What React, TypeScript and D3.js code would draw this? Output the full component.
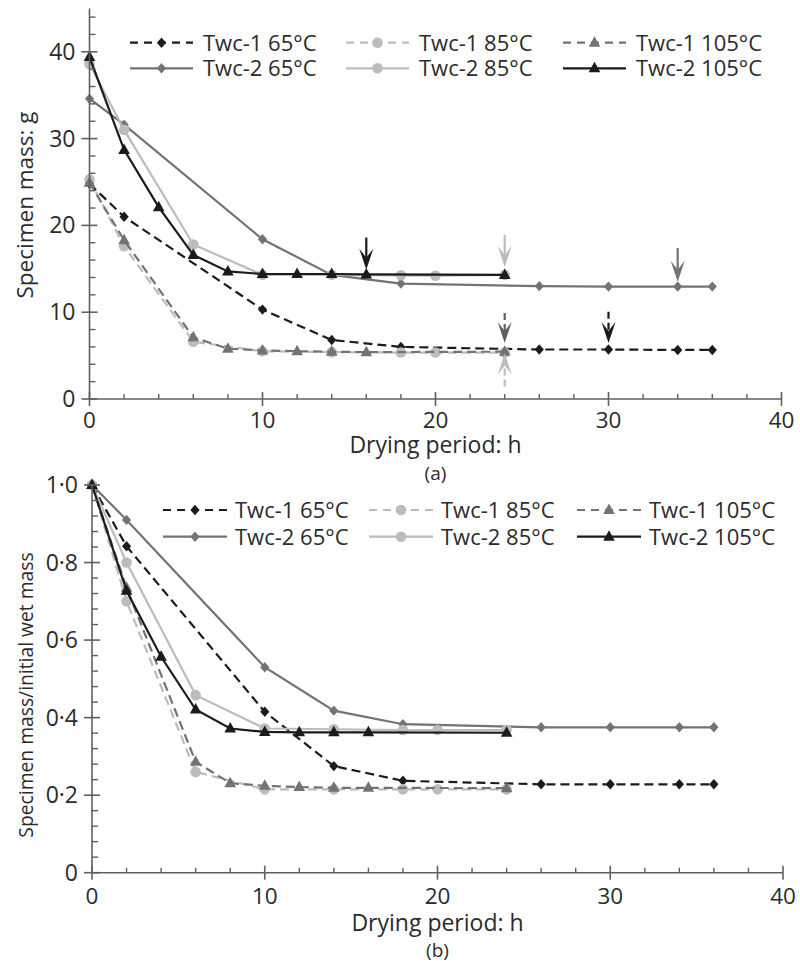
import React from 'react';
import * as d3 from 'd3';

// sampling hours for each series
const hoursT1_65 = [0, 2, 10, 14, 18, 26, 30, 34, 36];
const hoursT1_85 = [0, 2, 6, 10, 14, 18, 20, 24];
const hoursT1_105 = [0, 2, 6, 8, 10, 12, 14, 16, 24];
const hoursT2_65 = [0, 2, 10, 14, 18, 26, 30, 34, 36];
const hoursT2_85 = [0, 2, 6, 10, 14, 18, 20, 24];
const hoursT2_105 = [0, 2, 4, 6, 8, 10, 12, 14, 16, 24];

// (a) specimen mass, g
const massT1_65 = [24.8, 21.0, 10.3, 6.8, 6.0, 5.7, 5.7, 5.65, 5.65];
const massT1_85 = [25.3, 17.6, 6.6, 5.5, 5.4, 5.35, 5.35, 5.35];
const massT1_105 = [24.9, 18.3, 7.1, 5.8, 5.6, 5.5, 5.45, 5.4, 5.45];
const massT2_65 = [34.6, 31.6, 18.4, 14.3, 13.3, 13.0, 12.95, 12.95, 12.95];
const massT2_85 = [38.6, 31.0, 17.8, 14.3, 14.3, 14.25, 14.2, 14.3];
const massT2_105 = [39.4, 28.7, 22.1, 16.6, 14.7, 14.4, 14.4, 14.4, 14.35, 14.3];

// (b) specimen mass / initial wet mass
const ratioT1_65 = [1, 0.842, 0.415, 0.275, 0.237, 0.228, 0.228, 0.228, 0.228];
const ratioT1_85 = [1, 0.7, 0.26, 0.215, 0.215, 0.215, 0.215, 0.215];
const ratioT1_105 = [1, 0.735, 0.286, 0.231, 0.224, 0.221, 0.219, 0.219, 0.218];
const ratioT2_65 = [1, 0.91, 0.53, 0.418, 0.383, 0.375, 0.375, 0.375, 0.375];
const ratioT2_85 = [1, 0.8, 0.458, 0.372, 0.37, 0.368, 0.368, 0.368];
const ratioT2_105 = [1, 0.727, 0.557, 0.421, 0.372, 0.363, 0.362, 0.362, 0.362, 0.361];

const seriesNames = ['Twc-1 65°C', 'Twc-1 85°C', 'Twc-1 105°C', 'Twc-2 65°C', 'Twc-2 85°C', 'Twc-2 105°C'];
const seriesHours = [hoursT1_65, hoursT1_85, hoursT1_105, hoursT2_65, hoursT2_85, hoursT2_105];
const massValues = [massT1_65, massT1_85, massT1_105, massT2_65, massT2_85, massT2_105];
const ratioValues = [ratioT1_65, ratioT1_85, ratioT1_105, ratioT2_65, ratioT2_85, ratioT2_105];

// end-of-drying arrows in (a): hour, top value, tip value
const arrowHours = [16, 24, 34, 24, 30, 24];
const arrowFrom = [18.6, 18.9, 17.4, 9.9, 10.05, 1.45];
const arrowTo = [14.9, 15.2, 13.5, 6.45, 6.45, 5.25];

const BLACK = '#1b1b1b';
const MID = '#737373';
const LIGHT = '#bcbcbc';

const styles = [
  { color: BLACK, dash: '9,5', marker: 'diamond' },
  { color: LIGHT, dash: '9,5', marker: 'circle' },
  { color: MID, dash: '9,5', marker: 'triangle' },
  { color: MID, dash: null, marker: 'diamond' },
  { color: LIGHT, dash: null, marker: 'circle' },
  { color: BLACK, dash: null, marker: 'triangle' },
];
const drawOrder = [0, 3, 1, 4, 2, 5];
const arrowStyles = [
  { color: BLACK, dash: null },
  { color: LIGHT, dash: null },
  { color: MID, dash: null },
  { color: '#5e5e5e', dash: '7,4' },
  { color: BLACK, dash: '7,4' },
  { color: LIGHT, dash: '7,4' },
];

const FONT = '"Open Sans", sans-serif';
const AXIS = '#606060';
const TEXT = '#2b2b2b';

const Marker = ({ kind, x, y, color }: any) => {
  if (kind === 'circle') return <circle cx={x} cy={y} r={5.3} fill={color} />;
  if (kind === 'diamond')
    return <path d={`M${x},${y - 5.2}L${x + 4.6},${y}L${x},${y + 5.2}L${x - 4.6},${y}Z`} fill={color} />;
  return <path d={`M${x},${y - 6.5}L${x + 5.8},${y + 4}L${x - 5.8},${y + 4}Z`} fill={color} />;
};

interface PanelProps {
  x: d3.ScaleLinear<number, number>;
  y: d3.ScaleLinear<number, number>;
  values: number[][];
  majorY: number[];
  minorY: number[];
  fmtY: (v: number) => string;
  yLabel: string;
  yLabelSize: number;
  yLabelPos: [number, number];
  legendRows: [number, number];
  legendCols: number[];
  legendLine: number;
  legendGap: number;
  tickLabelDy: number;
  titleY: number;
  subY: number;
  sub: string;
  arrows?: boolean;
}

const Panel = (p: PanelProps) => {
  const { x, y } = p;
  const x0 = x(0);
  const y0 = y(0);
  const yTop = y.range()[1];
  const majorX = [0, 10, 20, 30, 40];
  const minorX = d3.range(2, 40, 2).filter((v) => v % 10 !== 0);
  const line = d3.line<[number, number]>().x((d) => x(d[0])).y((d) => y(d[1]));

  return (
    <g>
      {/* series */}
      {drawOrder.map((i) => {
        const pts = seriesHours[i].map((h, k) => [h, p.values[i][k]] as [number, number]);
        const s = styles[i];
        return (
          <g key={i}>
            <path d={line(pts) || ''} fill="none" stroke={s.color} strokeWidth={2.2} strokeDasharray={s.dash || undefined} />
            {pts.map((d, k) => (
              <Marker key={k} kind={s.marker} x={x(d[0])} y={y(d[1])} color={s.color} />
            ))}
          </g>
        );
      })}

      {/* arrows */}
      {p.arrows &&
        arrowHours.map((h, i) => {
          const ax = x(h);
          const yA = y(arrowFrom[i]);
          const yB = y(arrowTo[i]);
          const dir = yB > yA ? 1 : -1;
          const notch = yB - dir * 12;
          const wing = yB - dir * 21;
          const st = arrowStyles[i];
          return (
            <g key={'a' + i}>
              <line x1={ax} x2={ax} y1={yA} y2={notch} stroke={st.color} strokeWidth={2.2} strokeDasharray={st.dash || undefined} />
              <path d={`M${ax},${yB}L${ax - 7},${wing}L${ax},${notch}L${ax + 7},${wing}Z`} fill={st.color} />
            </g>
          );
        })}

      {/* axes */}
      <line x1={x0} x2={x(40)} y1={y0} y2={y0} stroke={AXIS} strokeWidth={1.6} />
      <line x1={x0} x2={x0} y1={y0} y2={yTop} stroke={AXIS} strokeWidth={1.6} />
      {majorX.map((v) => (
        <line key={'mx' + v} x1={x(v)} x2={x(v)} y1={y0 - 7} y2={y0 + 7} stroke={AXIS} strokeWidth={1.6} />
      ))}
      {minorX.map((v) => (
        <line key={'nx' + v} x1={x(v)} x2={x(v)} y1={y0 - 5} y2={y0} stroke={AXIS} strokeWidth={1.4} />
      ))}
      {p.majorY.map((v) => (
        <line key={'my' + v} x1={x0 - 8} x2={x0 + 8} y1={y(v)} y2={y(v)} stroke={AXIS} strokeWidth={1.6} />
      ))}
      {p.minorY.map((v) => (
        <line key={'ny' + v} x1={x0} x2={x0 + 6} y1={y(v)} y2={y(v)} stroke={AXIS} strokeWidth={1.4} />
      ))}
      {majorX.map((v) => (
        <text key={'tx' + v} x={x(v)} y={y0 + p.tickLabelDy} textAnchor="middle" fontSize={22.5} fill={TEXT} fontFamily={FONT}>
          {v}
        </text>
      ))}
      {p.majorY.map((v) => (
        <text key={'ty' + v} x={x0 - 14} y={y(v)} dy="0.35em" textAnchor="end" fontSize={23} fill={TEXT} fontFamily={FONT}>
          {p.fmtY(v)}
        </text>
      ))}
      <text x={x(20)} y={p.titleY} textAnchor="middle" fontSize={23} fill={TEXT} fontFamily={FONT}>
        Drying period: h
      </text>
      <text x={x(20)} y={p.subY} textAnchor="middle" fontSize={19} fill={TEXT} fontFamily={FONT}>
        {p.sub}
      </text>
      <text
        transform={`translate(${p.yLabelPos[0]},${p.yLabelPos[1]}) rotate(-90)`}
        dy="0.35em"
        textAnchor="middle"
        fontSize={p.yLabelSize}
        fill={TEXT}
        fontFamily={FONT}
      >
        {p.yLabel}
      </text>

      {/* legend */}
      {seriesNames.map((name, i) => {
        const col = i % 3;
        const row = Math.floor(i / 3);
        const lx = p.legendCols[col];
        const ly = p.legendRows[row];
        const s = styles[i];
        return (
          <g key={'l' + i}>
            <line x1={lx} x2={lx + p.legendLine} y1={ly} y2={ly} stroke={s.color} strokeWidth={2.2} strokeDasharray={s.dash ? '8,6' : undefined} />
            <Marker kind={s.marker} x={lx + p.legendLine / 2} y={ly} color={s.color} />
            <text x={lx + p.legendLine + p.legendGap} y={ly} dy="0.36em" fontSize={22} fill={TEXT} fontFamily={FONT}>
              {name}
            </text>
          </g>
        );
      })}
    </g>
  );
};

const fmtDot = (v: number) => (v === 0 ? '0' : d3.format('.1f')(v).replace('.', '·'));

export default function App() {
  const xA = d3.scaleLinear().domain([0, 40]).range([89.5, 781.5]);
  const yA = d3.scaleLinear().domain([0, 45]).range([399, 8.4]);
  const xB = d3.scaleLinear().domain([0, 40]).range([92, 783]);
  const yB = d3.scaleLinear().domain([0, 1]).range([872.7, 485]);

  return (
    <svg width={800} height={962} style={{ position: 'absolute', left: 0, top: 0, background: '#fff' }}>
      <Panel
        x={xA}
        y={yA}
        values={massValues}
        majorY={[0, 10, 20, 30, 40]}
        minorY={d3.range(2, 45, 2).filter((v) => v % 10 !== 0)}
        fmtY={(v) => String(v)}
        yLabel="Specimen mass: g"
        yLabelSize={22.5}
        yLabelPos={[25, 205]}
        legendRows={[42.7, 68.3]}
        legendCols={[130, 346, 563]}
        legendLine={63}
        legendGap={10}
        tickLabelDy={29}
        titleY={453}
        subY={480}
        sub="(a)"
        arrows
      />
      <Panel
        x={xB}
        y={yB}
        values={ratioValues}
        majorY={[0, 0.2, 0.4, 0.6, 0.8, 1.0]}
        minorY={d3.range(1, 25).filter((k) => k % 5 !== 0).map((k) => k * 0.04)}
        fmtY={fmtDot}
        yLabel="Specimen mass/initial wet mass"
        yLabelSize={19.3}
        yLabelPos={[26, 695]}
        legendRows={[510, 536.7]}
        legendCols={[163, 369, 577]}
        legendLine={64}
        legendGap={8}
        tickLabelDy={31}
        titleY={931}
        subY={957}
        sub="(b)"
      />
    </svg>
  );
}
